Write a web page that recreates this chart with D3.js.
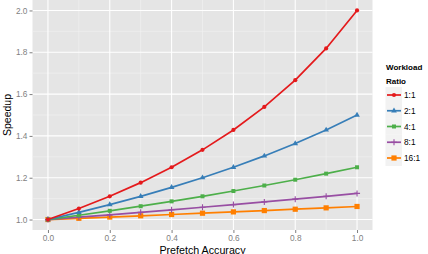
<!DOCTYPE html>
<html><head><meta charset="utf-8">
<script src="https://cdn.jsdelivr.net/npm/d3@7"></script>
<style>body{margin:0;background:#fff}svg{display:block}text{font-family:"Liberation Sans",Arial,sans-serif}</style>
</head><body>
<svg id="c" width="428" height="254"></svg>
<script>
const accuracy = [0,0.1,0.2,0.3,0.4,0.5,0.6,0.7,0.8,0.9,1.0];
const ratios = ["1:1","2:1","4:1","8:1","16:1"];
const s1_1 = [1,1.0526,1.1111,1.1765,1.25,1.3333,1.4286,1.5385,1.6667,1.8182,2.0];
const s2_1 = [1,1.0345,1.0714,1.1111,1.1538,1.2,1.25,1.3043,1.3636,1.4286,1.5];
const s4_1 = [1,1.0204,1.0417,1.0638,1.0870,1.1111,1.1364,1.1628,1.1905,1.2195,1.25];
const s8_1 = [1,1.0112,1.0227,1.0345,1.0465,1.0588,1.0714,1.0843,1.0976,1.1111,1.125];
const s16_1 = [1,1.0059,1.0119,1.0180,1.0241,1.0303,1.0366,1.0429,1.0494,1.0559,1.0625];
const xTicks = [0,0.2,0.4,0.6,0.8,1.0];
const yTicks = [1.0,1.2,1.4,1.6,1.8,2.0];
const colors = ["#e41a1c","#377eb8","#4daf4a","#984ea3","#ff7f00"];
const shapes = ["circle","triangle","square","plus","bigsquare"];

const seriesVals = [s1_1,s2_1,s4_1,s8_1,s16_1];
const series = ratios.map((r,i)=>({name:r,color:colors[i],shape:shapes[i],values:accuracy.map((a,j)=>({x:a,y:seriesVals[i][j]}))}));

const svg = d3.select("#c");
const L=32.5,R=372.5,T=0,B=230;
const x = d3.scaleLinear().domain([-0.05,1.05]).range([L,R]);
const y = d3.scaleLinear().domain([0.95,2.05]).range([B,T]);

svg.append("rect").attr("x",L).attr("y",T).attr("width",R-L).attr("height",B-T).attr("fill","#e5e5e5");
const g = svg.append("g");
const xMinor = xTicks.slice(0,-1).map((d,i)=>(d+xTicks[i+1])/2);
const yMinor = yTicks.slice(0,-1).map((d,i)=>(d+yTicks[i+1])/2);
g.selectAll(".xm").data(xMinor).enter().append("line").attr("x1",d=>x(d)).attr("x2",d=>x(d)).attr("y1",T).attr("y2",B).attr("stroke","#f2f2f2").attr("stroke-width",0.6);
g.selectAll(".ym").data(yMinor).enter().append("line").attr("y1",d=>y(d)).attr("y2",d=>y(d)).attr("x1",L).attr("x2",R).attr("stroke","#f2f2f2").attr("stroke-width",0.6);
g.selectAll(".xg").data(xTicks).enter().append("line").attr("x1",d=>x(d)).attr("x2",d=>x(d)).attr("y1",T).attr("y2",B).attr("stroke","#fff").attr("stroke-width",1.1);
g.selectAll(".yg").data(yTicks).enter().append("line").attr("y1",d=>y(d)).attr("y2",d=>y(d)).attr("x1",L).attr("x2",R).attr("stroke","#fff").attr("stroke-width",1.1);

const xAxis = svg.append("g").attr("transform",`translate(0,${B})`)
  .call(d3.axisBottom(x).tickValues(xTicks).tickFormat(d3.format(".1f")).tickSize(3).tickPadding(2));
const yAxis = svg.append("g").attr("transform",`translate(${L},0)`)
  .call(d3.axisLeft(y).tickValues(yTicks).tickFormat(d3.format(".1f")).tickSize(3).tickPadding(2));
[xAxis,yAxis].forEach(a=>{
  a.select(".domain").remove();
  a.selectAll(".tick line").attr("stroke","#7f7f7f");
  a.selectAll(".tick text").attr("fill","#7f7f7f").style("font-size","8.3px");
});

svg.append("text").attr("x",(L+R)/2).attr("y",253.5).attr("text-anchor","middle").style("font-size","10.7px").attr("fill","#000").text("Prefetch Accuracy");
svg.append("text").attr("transform",`translate(11,${(T+B)/2}) rotate(-90)`).attr("text-anchor","middle").style("font-size","10.5px").attr("fill","#000").text("Speedup");

const line = d3.line().x(d=>x(d.x)).y(d=>y(d.y));
function marker(sel, shape, color){
  sel.each(function(){
    const m=d3.select(this);
    if(shape==="circle") m.append("circle").attr("r",2.1).attr("fill",color);
    else if(shape==="triangle") m.append("path").attr("d",d3.symbol(d3.symbolTriangle,14)()).attr("fill",color);
    else if(shape==="square") m.append("rect").attr("x",-2).attr("y",-2).attr("width",4).attr("height",4).attr("fill",color);
    else if(shape==="plus") m.append("path").attr("d","M-3,0H3M0,-3V3").attr("stroke",color).attr("stroke-width",1.1);
    else m.append("rect").attr("x",-2.6).attr("y",-2.6).attr("width",5.2).attr("height",5.2).attr("fill",color);
  });
}
series.slice().reverse().forEach(s=>{
  const sg = svg.append("g");
  sg.append("path").datum(s.values).attr("d",line).attr("fill","none").attr("stroke",s.color).attr("stroke-width",1.7);
  const pts = sg.selectAll("g").data(s.values).enter().append("g").attr("transform",d=>`translate(${x(d.x)},${y(d.y)})`);
  marker(pts,s.shape,s.color);
});

const lg = svg.append("g");
lg.append("text").attr("x",386).attr("y",70).style("font-size","8px").style("font-weight","bold").text("Workload");
lg.append("text").attr("x",386).attr("y",84).style("font-size","8px").style("font-weight","bold").text("Ratio");
const ly = d3.scalePoint().domain(ratios).range([95,158]);
series.forEach(s=>{
  const yy = ly(s.name);
  lg.append("rect").attr("x",385.5).attr("y",yy-8).attr("width",16.5).attr("height",16).attr("fill","#f2f2f2");
  lg.append("line").attr("x1",387).attr("x2",401).attr("y1",yy).attr("y2",yy).attr("stroke",s.color).attr("stroke-width",1.7);
  const m = lg.append("g").attr("transform",`translate(394,${yy})`);
  marker(m,s.shape,s.color);
  lg.append("text").attr("x",404).attr("y",yy+3).style("font-size","8.3px").attr("fill","#000").text(s.name);
});
</script>
</body></html>
